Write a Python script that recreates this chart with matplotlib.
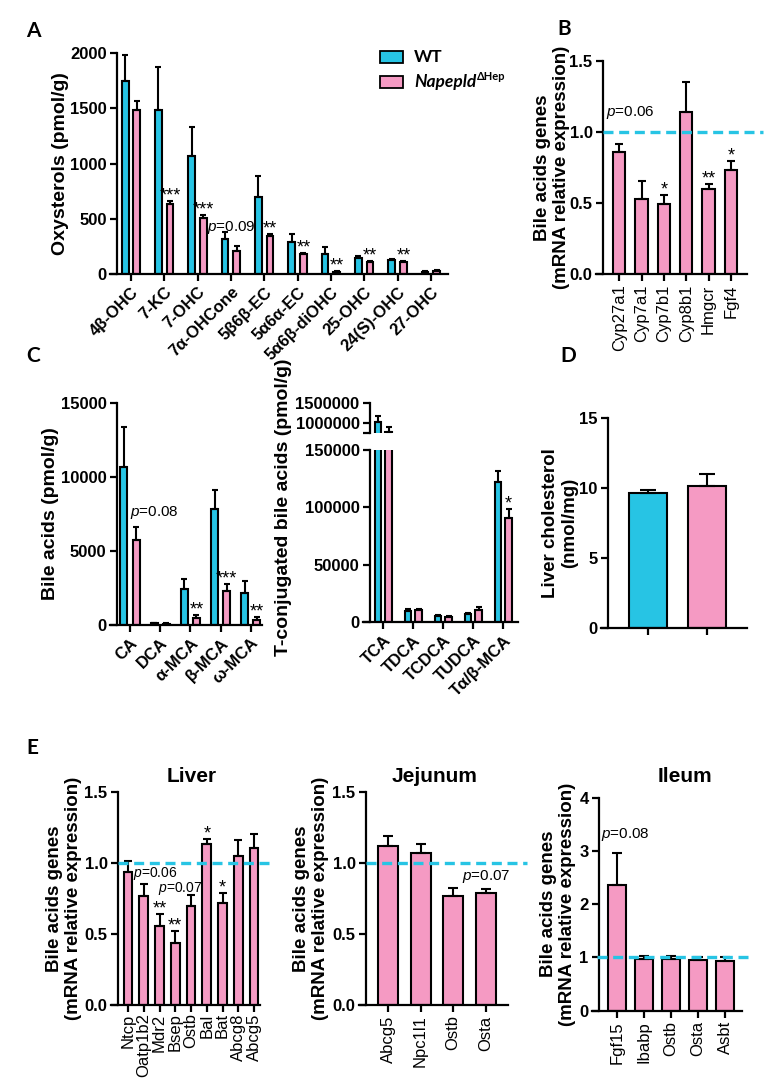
import numpy as np
import matplotlib
matplotlib.use('Agg')
import matplotlib.pyplot as plt
from matplotlib.patches import Rectangle

plt.rcParams['font.family'] = ['Liberation Sans', 'DejaVu Sans']
plt.rcParams['mathtext.fontset'] = 'custom'
plt.rcParams['mathtext.it'] = 'Liberation Sans:italic'
plt.rcParams['mathtext.rm'] = 'Liberation Sans'

WT_COLOR = '#27C4E4'
KO_COLOR = '#F59AC3'

# A - oxysterols
ox_labels = ['4β-OHC', '7-KC', '7-OHC', '7α-OHCone', '5β6β-EC', '5α6α-EC',
             '5α6β-diOHC', '25-OHC', '24(S)-OHC', '27-OHC']
ox_wt = [1743, 1486, 1064, 317, 693, 292, 181, 145, 130, 21]
ox_wt_err = [241, 383, 263, 60, 190, 70, 63, 21, 9, 9]
ox_ko = [1486, 633, 506, 211, 341, 178, 18, 105, 112, 24]
ox_ko_err = [76, 30, 31, 39, 21, 12, 9, 10, 6, 9]
ox_sig = ['', '***', '***', '', '**', '**', '**', '**', '**', '']

# B - liver bile acid genes
b_genes = ['Cyp27a1', 'Cyp7a1', 'Cyp7b1', 'Cyp8b1', 'Hmgcr', 'Fgf4']
b_vals = [0.857, 0.530, 0.493, 1.143, 0.596, 0.732]
b_err = [0.056, 0.127, 0.061, 0.211, 0.038, 0.064]
b_sig = ['', '', '*', '', '**', '*']

# C - bile acids
ba_labels = ['CA', 'DCA', 'α-MCA', 'β-MCA', 'ω-MCA']
ba_wt = [10690, 110, 2407, 7807, 2182]
ba_wt_err = [2690, 40, 720, 1305, 810]
ba_ko = [5737, 70, 450, 2317, 337]
ba_ko_err = [853, 40, 250, 450, 203]
ba_sig = ['', '', '**', '***', '**']

tba_labels = ['TCA', 'TDCA', 'TCDCA', 'TUDCA', 'Tα/β-MCA']
tba_wt = [1025000, 10100, 5200, 7200, 121900]
tba_wt_err = [165000, 1500, 900, 1200, 10100]
tba_ko = [790000, 10700, 4600, 10400, 90500]
tba_ko_err = [110000, 1100, 1100, 2900, 7900]
tba_sig = ['', '', '', '', '*']

# D - liver cholesterol
chol_vals = [9.66, 10.16]
chol_err = [0.20, 0.82]

# E - gene expression per tissue
liver_genes = ['Ntcp', 'Oatp1b2', 'Mdr2', 'Bsep', 'Ostb', 'Bal', 'Bat', 'Abcg8', 'Abcg5']
liver_vals = [0.933, 0.769, 0.556, 0.434, 0.699, 1.135, 0.720, 1.045, 1.102]
liver_err = [0.080, 0.082, 0.084, 0.084, 0.077, 0.032, 0.070, 0.113, 0.098]
liver_sig = ['', '', '**', '**', '', '*', '*', '', '']

jej_genes = ['Abcg5', 'Npc1l1', 'Ostb', 'Osta']
jej_vals = [1.117, 1.072, 0.769, 0.787]
jej_err = [0.075, 0.063, 0.054, 0.033]

ile_genes = ['Fgf15', 'Ibabp', 'Ostb', 'Osta', 'Asbt']
ile_vals = [2.36, 0.964, 0.977, 0.951, 0.939]
ile_err = [0.61, 0.066, 0.053, 0.05, 0.075]

W, H = 776, 1090
TICK_FS = 12
fig = plt.figure(figsize=(W / 100, H / 100), dpi=100)


def make_ax(spine, end, top, bottom, c0, sp, stub=7):
    left = spine - stub
    ax = fig.add_axes([left / W, 1 - bottom / H, (end - left) / W, (bottom - top) / H])
    ax.set_xlim((left - c0) / sp, (end - c0) / sp)
    ax.spines['left'].set_position(('axes', stub / (end - left)))
    ax.spines[['top', 'right']].set_visible(False)
    ax.spines[['left', 'bottom']].set_linewidth(1.6)
    ax.tick_params(width=1.6, length=5, labelsize=TICK_FS, pad=2.5)
    ax.px_left, ax.px_width = left, end - left
    return ax


def set_ylabel(ax, text, right_px, fs):
    # right edge of the rotated label, in figure pixels
    ax.set_ylabel(text, fontweight='bold', fontsize=fs, linespacing=1.15)
    ax.yaxis.set_label_coords((right_px - ax.px_left) / ax.px_width, 0.5)


def draw_bars(ax, x, vals, errs, color, width, cap):
    ax.bar(x, vals, width, color=color, edgecolor='black', linewidth=1.5, zorder=2)
    ax.errorbar(x, vals, yerr=[np.zeros(len(vals)), errs], fmt='none', ecolor='black',
                elinewidth=1.5, capsize=cap, capthick=1.5, zorder=3)


def yticks(ax, ticks, fmt='{:d}'):
    ax.set_yticks(ticks, [fmt.format(t) for t in ticks], fontweight='bold')


def stars(ax, x, vals, errs, marks, fs=13):
    for xi, v, e, m in zip(x, vals, errs, marks):
        if m:
            ax.annotate(m, (xi, v + e), xytext=(0, -2.5), textcoords='offset points',
                        ha='center', va='bottom', fontsize=fs)


def ref_line(ax, xmin, xmax):
    ax.axhline(1.0, xmin=xmin, xmax=xmax, color=WT_COLOR, lw=2.4, ls=(0, (3, 1.7)),
               clip_on=False, zorder=4)


gene_ylabel = 'Bile acids genes\n(mRNA relative expression)'
YL_FS = 13.5
P_FS = 11

# ---- A
axA = make_ax(117, 448, 53, 274, 131, 33.33)
x = np.arange(len(ox_labels))
draw_bars(axA, x - 0.175, ox_wt, ox_wt_err, WT_COLOR, 0.2, 2.5)
draw_bars(axA, x + 0.175, ox_ko, ox_ko_err, KO_COLOR, 0.2, 2.5)
axA.set_ylim(0, 2000)
yticks(axA, [0, 500, 1000, 1500, 2000])
axA.set_xticks(x, ox_labels, rotation=45, ha='right', rotation_mode='anchor', fontweight='bold')
set_ylabel(axA, 'Oxysterols (pmol/g)', 69, 14)
stars(axA, x + 0.175, ox_ko, ox_ko_err, ox_sig)
axA.text(3, 419, '$p$=0.09', ha='center', va='center', fontsize=P_FS)

# ---- B
axB = make_ax(603, 747, 61, 274, 619.3, 22.33)
xb = np.arange(len(b_genes))
draw_bars(axB, xb, b_vals, b_err, KO_COLOR, 0.55, 3)
axB.set_ylim(0, 1.5)
yticks(axB, [0, 0.5, 1.0, 1.5], '{:.1f}')
axB.set_xticks(xb, b_genes, rotation=90)
set_ylabel(axB, gene_ylabel, 570, YL_FS)
ref_line(axB, 7 / 151, 167 / 151)
stars(axB, xb, b_vals, b_err, b_sig)
axB.text(0.5, 1.136, '$p$=0.06', ha='center', va='center', fontsize=P_FS)

# ---- C left
axC = make_ax(117, 262, 403, 625, 130, 30.2)
xc = np.arange(len(ba_labels))
draw_bars(axC, xc - 0.2, ba_wt, ba_wt_err, WT_COLOR, 0.23, 2.2)
draw_bars(axC, xc + 0.2, ba_ko, ba_ko_err, KO_COLOR, 0.23, 2.2)
axC.set_ylim(0, 15000)
yticks(axC, [0, 5000, 10000, 15000])
axC.set_xticks(xc, ba_labels, rotation=45, ha='right', rotation_mode='anchor', fontweight='bold')
set_ylabel(axC, 'Bile acids (pmol/g)', 59, 14)
stars(axC, xc + 0.2, ba_ko, ba_ko_err, ba_sig)
axC.text(0, 7600, '$p$=0.08', ha='left', va='center', fontsize=P_FS)

# ---- C right (broken axis)
xt = np.arange(len(tba_labels))
axT = make_ax(370, 518, 450, 622.3, 383.3, 30)
axU = make_ax(370, 518, 403.3, 433.3, 383.3, 30)
for ax in (axT, axU):
    draw_bars(ax, xt - 0.177, tba_wt, tba_wt_err, WT_COLOR, 0.22, 2.2)
    draw_bars(ax, xt + 0.177, tba_ko, tba_ko_err, KO_COLOR, 0.22, 2.2)
axT.set_ylim(0, 150000)
yticks(axT, [0, 50000, 100000, 150000])
axT.set_xticks(xt, tba_labels, rotation=45, ha='right', rotation_mode='anchor', fontweight='bold')
stars(axT, xt + 0.177, tba_ko, tba_ko_err, tba_sig)
axU.set_ylim(750000, 1500000)
yticks(axU, [1000000, 1500000])
axU.set_yticks([750000], minor=True)
axU.tick_params(which='minor', length=5, width=1.6)
axU.spines['bottom'].set_visible(False)
axU.tick_params(axis='x', bottom=False, labelbottom=False)
fig.text(283 / W, 1 - 507 / H, 'T-conjugated bile acids (pmol/g)', rotation=90,
         ha='center', va='center', fontweight='bold', fontsize=14)

# ---- D
axD = make_ax(608, 747, 418, 628, 647.7, 59)
xd = np.arange(len(chol_vals))
draw_bars(axD, xd, chol_vals, chol_err, [WT_COLOR, KO_COLOR], 0.64, 6)
axD.set_ylim(0, 15)
yticks(axD, [0, 5, 10, 15])
axD.set_xticks(xd, ['', ''])
set_ylabel(axD, 'Liver cholesterol\n(nmol/mg)', 578, YL_FS)

# ---- E
axL = make_ax(118, 260, 791.7, 1005, 128, 15.75)
xl = np.arange(len(liver_genes))
draw_bars(axL, xl, liver_vals, liver_err, KO_COLOR, 0.57, 3)
axL.set_ylim(0, 1.5)
yticks(axL, [0, 0.5, 1.0, 1.5], '{:.1f}')
axL.set_xticks(xl, liver_genes, rotation=90)
axL.tick_params(axis='x', pad=1)
set_ylabel(axL, gene_ylabel, 82, YL_FS)
ref_line(axL, 7 / 149, 159 / 149)
stars(axL, xl, liver_vals, liver_err, liver_sig)
axL.text(0.3, 0.925, '$p$=0.06', ha='left', va='center', fontsize=10)
axL.text(3.3, 0.82, '$p$=0.07', ha='center', va='center', fontsize=10)
axL.set_title('Liver', fontweight='bold', fontsize=15, pad=7, x=0.54)

axJ = make_ax(366, 508, 792, 1005, 388, 32.6)
xj = np.arange(len(jej_genes))
draw_bars(axJ, xj, jej_vals, jej_err, KO_COLOR, 0.61, 3.6)
axJ.set_ylim(0, 1.5)
yticks(axJ, [0, 0.5, 1.0, 1.5], '{:.1f}')
axJ.set_xticks(xj, jej_genes, rotation=90)
set_ylabel(axJ, gene_ylabel, 329, YL_FS)
ref_line(axJ, 7 / 149, 168 / 149)
axJ.text(3, 0.905, '$p$=0.07', ha='center', va='center', fontsize=P_FS)
axJ.set_title('Jejunum', fontweight='bold', fontsize=15, pad=7, x=0.51)

axI = make_ax(599, 742, 797.7, 1010.7, 617, 27)
xi = np.arange(len(ile_genes))
draw_bars(axI, xi, ile_vals, ile_err, KO_COLOR, 0.63, 3.6)
axI.set_ylim(0, 4)
yticks(axI, [0, 1, 2, 3, 4])
axI.set_xticks(xi, ile_genes, rotation=90)
set_ylabel(axI, gene_ylabel, 576, YL_FS)
ref_line(axI, 5 / 150, 156 / 150)
axI.text(0.3, 3.3, '$p$=0.08', ha='center', va='center', fontsize=P_FS)
axI.set_title('Ileum', fontweight='bold', fontsize=15, pad=11.5, x=0.62)

# ---- panel letters
for letter, px, py in [('A', 33, 31), ('B', 564, 29), ('C', 33, 356), ('D', 568, 356), ('E', 32, 748)]:
    fig.text(px / W, 1 - py / H, letter, ha='center', va='center', fontsize=15,
             fontweight='bold', family=['Lato', 'DejaVu Sans'])

# ---- legend
for color, top in [(WT_COLOR, 51), (KO_COLOR, 76)]:
    fig.patches.append(Rectangle((380 / W, 1 - (top + 11.5) / H), 23 / W, 11.5 / H,
                                 transform=fig.transFigure, facecolor=color,
                                 edgecolor='black', lw=1.3))
fig.text(414 / W, 1 - 57 / H, 'WT', ha='left', va='center', fontsize=12.5,
         fontweight='bold', family=['Lato', 'DejaVu Sans'])
ko_txt = fig.text(414 / W, 1 - 82 / H, 'Napepld', ha='left', va='center', fontsize=12.5,
                  fontweight='bold', style='italic', family=['Lato', 'DejaVu Sans'])
renderer = fig.canvas.get_renderer()
bb = ko_txt.get_window_extent(renderer)
fig.text(bb.x1 / W + 1 / W, 1 - 76 / H, 'ΔHep', ha='left', va='center', fontsize=8,
         fontweight='bold', family=['Lato', 'DejaVu Sans'])

fig.savefig('out.png', dpi=100)
